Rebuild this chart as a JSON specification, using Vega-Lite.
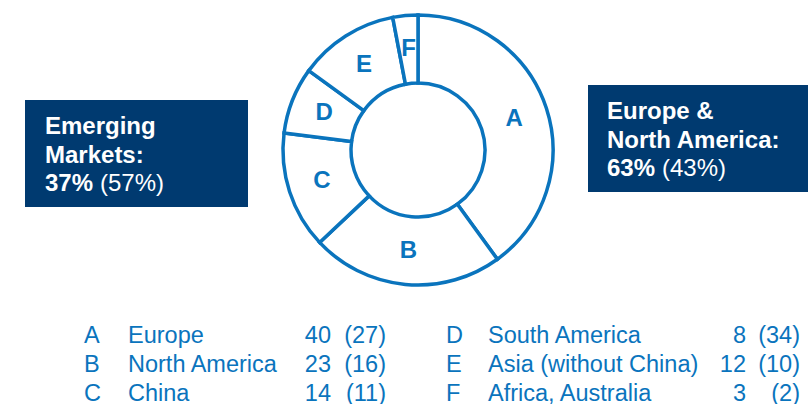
{
  "$schema": "https://vega.github.io/schema/vega-lite/v6.json",
  "padding": {"left": 25, "top": 6, "right": 0, "bottom": 0},
  "background": "white",
  "config": {"view": {"stroke": null}, "text": {"font": "Liberation Sans"}},
  "datasets": {
    "regions": [
      {"key": "A", "name": "Europe", "share": 40, "prev": 27},
      {"key": "B", "name": "North America", "share": 23, "prev": 16},
      {"key": "C", "name": "China", "share": 14, "prev": 11},
      {"key": "D", "name": "South America", "share": 8, "prev": 34},
      {"key": "E", "name": "Asia (without China)", "share": 12, "prev": 10},
      {"key": "F", "name": "Africa, Australia", "share": 3, "prev": 2}
    ]
  },
  "spacing": 27.5,
  "vconcat": [
    {
      "spacing": 26,
      "hconcat": [
        {
          "spacing": 0,
          "vconcat": [
            {"width": 223, "height": 94, "data": {"values": [{}]}, "mark": {"type": "point", "opacity": 0}, "encoding": {}},
            {
              "width": 223, "height": 107,
              "view": {"fill": "#003a70", "stroke": null},
              "layer": [
                {
                  "data": {"values": [{"line": 1, "t": "Emerging"}, {"line": 2, "t": "Markets:"}, {"line": 3, "t": "37%"}]},
                  "mark": {"type": "text", "align": "left", "baseline": "alphabetic", "fontSize": 24, "fontWeight": "bold", "fill": "white"},
                  "encoding": {
                    "x": {"value": 20},
                    "y": {"field": "line", "type": "ordinal", "scale": {"type": "point", "range": [34, 91], "padding": 0}, "axis": null},
                    "text": {"field": "t"}
                  }
                },
                {
                  "data": {"values": [{"line": 3, "t": "(57%)"}]},
                  "mark": {"type": "text", "align": "left", "baseline": "alphabetic", "fontSize": 24, "fill": "white"},
                  "encoding": {
                    "x": {"value": 75},
                    "y": {"field": "line", "type": "ordinal", "scale": {"type": "point", "range": [34, 91], "padding": 0}, "axis": null},
                    "text": {"field": "t"}
                  }
                }
              ]
            }
          ]
        },
        {
          "width": 288, "height": 288,
          "data": {"name": "regions"},
          "layer": [
            {
              "mark": {"type": "arc", "innerRadius": 67, "outerRadius": 135, "fill": "white", "stroke": "#0a74bd", "strokeWidth": 3.5},
              "encoding": {
                "theta": {"field": "share", "type": "quantitative", "stack": true},
                "order": {"field": "key", "sort": "ascending"}
              }
            },
            {
              "mark": {"type": "text", "radius": 101, "fontSize": 24, "fontWeight": "bold", "fill": "#0a74bd"},
              "encoding": {
                "theta": {"field": "share", "type": "quantitative", "stack": true},
                "order": {"field": "key", "sort": "ascending"},
                "text": {"field": "key"}
              }
            }
          ]
        },
        {
          "spacing": 0,
          "vconcat": [
            {"width": 220, "height": 79, "data": {"values": [{}]}, "mark": {"type": "point", "opacity": 0}, "encoding": {}},
            {
              "width": 220, "height": 107,
              "view": {"fill": "#003a70", "stroke": null},
              "layer": [
                {
                  "data": {"values": [{"line": 1, "t": "Europe &"}, {"line": 2, "t": "North America:"}, {"line": 3, "t": "63%"}]},
                  "mark": {"type": "text", "align": "left", "baseline": "alphabetic", "fontSize": 24, "fontWeight": "bold", "fill": "white"},
                  "encoding": {
                    "x": {"value": 19},
                    "y": {"field": "line", "type": "ordinal", "scale": {"type": "point", "range": [34, 91], "padding": 0}, "axis": null},
                    "text": {"field": "t"}
                  }
                },
                {
                  "data": {"values": [{"line": 3, "t": "(43%)"}]},
                  "mark": {"type": "text", "align": "left", "baseline": "alphabetic", "fontSize": 24, "fill": "white"},
                  "encoding": {
                    "x": {"value": 74},
                    "y": {"field": "line", "type": "ordinal", "scale": {"type": "point", "range": [34, 91], "padding": 0}, "axis": null},
                    "text": {"field": "t"}
                  }
                }
              ]
            }
          ]
        }
      ]
    },
    {
      "spacing": 0,
      "hconcat": [
        {
          "width": 400, "height": 87,
          "data": {"name": "regions"},
          "transform": [
            {"filter": {"field": "key", "oneOf": ["A", "B", "C"]}},
            {"calculate": "'(' + datum.prev + ')'", "as": "prevLabel"}
          ],
          "encoding": {
            "y": {"field": "key", "type": "ordinal", "scale": {"type": "point", "padding": 0.5}, "axis": null}
          },
          "layer": [
            {"mark": {"type": "text", "align": "left", "baseline": "middle", "fontSize": 23.5, "fill": "#0a74bd"}, "encoding": {"x": {"value": 59}, "text": {"field": "key"}}},
            {"mark": {"type": "text", "align": "left", "baseline": "middle", "fontSize": 23.5, "fill": "#0a74bd"}, "encoding": {"x": {"value": 103}, "text": {"field": "name"}}},
            {"mark": {"type": "text", "align": "right", "baseline": "middle", "fontSize": 23.5, "fill": "#0a74bd"}, "encoding": {"x": {"value": 306}, "text": {"field": "share", "type": "quantitative"}}},
            {"mark": {"type": "text", "align": "right", "baseline": "middle", "fontSize": 23.5, "fill": "#0a74bd"}, "encoding": {"x": {"value": 361}, "text": {"field": "prevLabel"}}}
          ]
        },
        {
          "width": 383, "height": 87,
          "data": {"name": "regions"},
          "transform": [
            {"filter": {"field": "key", "oneOf": ["D", "E", "F"]}},
            {"calculate": "'(' + datum.prev + ')'", "as": "prevLabel"}
          ],
          "encoding": {
            "y": {"field": "key", "type": "ordinal", "scale": {"type": "point", "padding": 0.5}, "axis": null}
          },
          "layer": [
            {"mark": {"type": "text", "align": "left", "baseline": "middle", "fontSize": 23.5, "fill": "#0a74bd"}, "encoding": {"x": {"value": 21}, "text": {"field": "key"}}},
            {"mark": {"type": "text", "align": "left", "baseline": "middle", "fontSize": 23.5, "fill": "#0a74bd"}, "encoding": {"x": {"value": 63}, "text": {"field": "name"}}},
            {"mark": {"type": "text", "align": "right", "baseline": "middle", "fontSize": 23.5, "fill": "#0a74bd"}, "encoding": {"x": {"value": 321}, "text": {"field": "share", "type": "quantitative"}}},
            {"mark": {"type": "text", "align": "right", "baseline": "middle", "fontSize": 23.5, "fill": "#0a74bd"}, "encoding": {"x": {"value": 375}, "text": {"field": "prevLabel"}}}
          ]
        }
      ]
    }
  ]
}
